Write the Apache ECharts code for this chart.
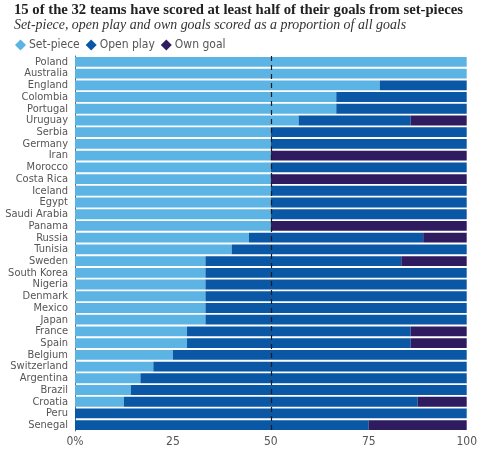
<!DOCTYPE html>
<html><head><meta charset="utf-8">
<script src="https://cdn.jsdelivr.net/npm/echarts@6/dist/echarts.min.js"></script>
<style>html,body{margin:0;padding:0;background:#fff}#c{width:480px;height:449px}</style>
</head><body><div id="c"></div>
<script>
const teams = ["Poland","Australia","England","Colombia","Portugal","Uruguay","Serbia","Germany","Iran","Morocco","Costa Rica","Iceland","Egypt","Saudi Arabia","Panama","Russia","Tunisia","Sweden","South Korea","Nigeria","Denmark","Mexico","Japan","France","Spain","Belgium","Switzerland","Argentina","Brazil","Croatia","Peru","Senegal"];
const setPiece = [100,100,77.8,66.7,66.7,57.1,50,50,50,50,50,50,50,50,50,44.4,40,33.3,33.3,33.3,33.3,33.3,33.3,28.6,28.6,25,20,16.7,14.3,12.5,0,0];
const openPlay = [0,0,22.2,33.3,33.3,28.6,50,50,0,50,0,50,50,50,0,44.5,60,50,66.7,66.7,66.7,66.7,66.7,57.1,57.1,75,80,83.3,85.7,75,100,75];
const ownGoal = [0,0,0,0,0,14.3,0,0,50,0,50,0,0,0,50,11.1,0,16.7,0,0,0,0,0,14.3,14.3,0,0,0,0,12.5,0,25];
const xTicks = ["0%","25","50","75","100"];

const chart = echarts.init(document.getElementById('c'));
const sans = "'Liberation Sans Narrow','DejaVu Sans Condensed','Roboto',sans-serif";
const serif = "'Liberation Serif','DejaVu Serif',serif";
const mk = (name, data, color) => ({
  name, type: 'bar', stack: 'all', data, barCategoryGap: '16%',
  itemStyle: { color }, emphasis: { disabled: true }
});
const s3 = mk('Own goal', ownGoal, '#2f1b5f');
const s1 = mk('Set-piece', setPiece, '#5bb4e3');
s1.markLine = {
  silent: true, symbol: ['none','none'], z: 10,
  label: { show: false },
  lineStyle: { color: '#1a1a1a', type: [5,4], width: 1.2 },
  data: [{ xAxis: 50 }]
};
chart.setOption({
  animation: false,
  backgroundColor: '#fff',
  title: {
    text: '15 of the 32 teams have scored at least half of their goals from set-pieces',
    subtext: 'Set-piece, open play and own goals scored as a proportion of all goals',
    left: 9, top: -2, itemGap: 0,
    textStyle: { fontFamily: serif, fontSize: 14.7, fontWeight: 'bold', color: '#222' },
    subtextStyle: { fontFamily: serif, fontSize: 13.9, fontStyle: 'italic', color: '#333' }
  },
  legend: {
    left: 10, top: 34, icon: 'diamond', itemWidth: 11, itemHeight: 11, itemGap: 6,
    textStyle: { fontFamily: sans, fontSize: 12, color: '#555', padding: [0,0,0,-2] },
    data: ['Set-piece','Open play','Own goal']
  },
  grid: { left: 75, right: 11, top: 56, bottom: 18, containLabel: false },
  xAxis: {
    type: 'value', min: 0, max: 100, interval: 25,
    axisLine: { show: false }, axisTick: { show: false }, splitLine: { show: false },
    axisLabel: { fontFamily: sans, fontSize: 12, color: '#555', margin: 5,
      formatter: (v) => xTicks[Math.round(v / 25)] }
  },
  yAxis: {
    type: 'category', data: teams, inverse: true,
    axisLine: { show: true, lineStyle: { color: '#666', width: 1 } },
    axisTick: { show: false },
    axisLabel: { interval: 0, fontFamily: sans, fontSize: 11, color: '#555', margin: 7 }
  },
  series: [s1, mk('Open play', openPlay, '#0a57a5'), s3]
});
</script></body></html>
